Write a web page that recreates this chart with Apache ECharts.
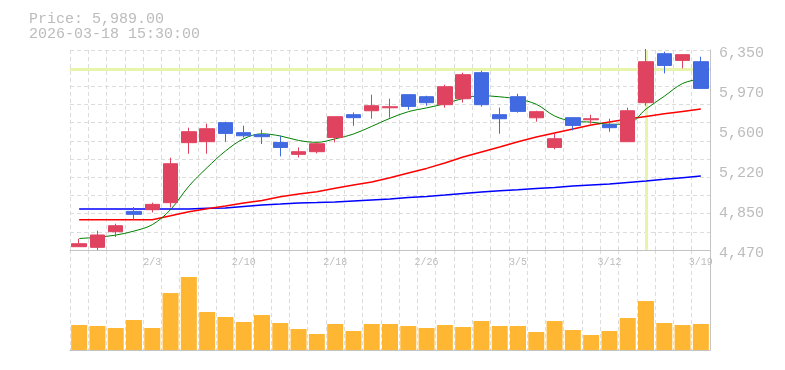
<!DOCTYPE html>
<html>
<head>
<meta charset="utf-8">
<script src="https://cdn.jsdelivr.net/npm/echarts@6/dist/echarts.min.js"></script>
<style>
  html, body { margin: 0; padding: 0; background: #ffffff; }
  #chart { width: 785px; height: 370px; }
</style>
</head>
<body>
<div id="chart"></div>
<script>
// ---- data ----
const categories = ['1/28','1/29','1/30','2/2','2/3','2/4','2/5','2/6','2/9','2/10','2/12','2/13','2/16','2/17','2/18','2/19','2/20','2/24','2/25','2/26','2/27','3/2','3/3','3/4','3/5','3/6','3/9','3/10','3/11','3/12','3/13','3/16','3/17','3/18','3/19'];
const xTickLabels = ['2/3','2/10','2/18','2/26','3/5','3/12','3/19'];
const yTickLabels = ['4,470','4,850','5,220','5,600','5,970','6,350'];
const headerLines = ['Price: 5,989.00', '2026-03-18 15:30:00'];

const openPrices  = [4501,4495,4642,4833,4849,4915,5479,5488,5667,5573,5554,5481,5369,5394,5528,5742,5779,5807,5930,5911,5836,5892,6137,5742,5911,5713,5434,5714,5694,5648,5488,5855,6315,6252,6240];
const closePrices = [4529,4611,4698,4805,4899,5281,5582,5610,5566,5544,5535,5434,5394,5469,5723,5714,5826,5817,5820,5855,6005,6118,5836,5704,5773,5770,5516,5641,5704,5620,5779,6240,6205,6306,5989];
const lowPrices   = [4501,4470,4592,4752,4823,4870,5375,5375,5488,5526,5466,5350,5340,5378,5481,5638,5704,5714,5789,5826,5808,5855,5817,5563,5761,5676,5416,5594,5657,5582,5488,5826,6130,6177,5989];
const highPrices  = [4576,4651,4717,4874,4915,5338,5620,5657,5676,5638,5601,5544,5434,5479,5723,5763,5930,5892,5930,5920,6024,6137,6155,5808,5939,5779,5563,5714,5742,5704,5808,6360,6334,6306,6287];

const maShort = [4578,4590,4610,4648,4708,4850,5070,5245,5400,5516,5562,5542,5500,5482,5515,5560,5632,5708,5770,5806,5845,5895,5920,5910,5888,5840,5730,5680,5672,5652,5654,5795,5915,6035,6080];
const maMid   = [4755,4755,4755,4755,4755,4792,4830,4858,4884,4912,4936,4970,4996,5018,5050,5080,5110,5150,5194,5237,5288,5344,5392,5438,5488,5532,5570,5607,5645,5673,5701,5726,5751,5773,5795];
const maLong  = [4855,4855,4855,4855,4855,4855,4855,4862,4865,4880,4893,4902,4912,4916,4921,4931,4940,4949,4964,4974,4987,5002,5015,5027,5037,5049,5058,5072,5081,5090,5105,5119,5134,5150,5166];

const volumes = [250,240,220,300,220,570,730,380,330,280,350,270,210,160,260,190,260,260,240,220,250,230,290,240,240,180,290,200,150,190,320,490,270,250,260];

const crossPrice = 6171;
const crossDate = '3/16';

// ---- styles ----
const monoName = 'Liberation Mono';
const labelGray = '#bcbcbc';
const axisGray = '#c4c4c4';
const gridDash = { color: '#dcdcdc', width: 1, type: [4, 3] };
const upColor = '#e0435f';
const downColor = '#4169e1';

const candleData = categories.map((c, i) => [openPrices[i], closePrices[i], lowPrices[i], highPrices[i]]);

const chart = echarts.init(document.getElementById('chart'), null, { renderer: 'canvas' });
chart.setOption({
  animation: false,
  backgroundColor: '#ffffff',
  graphic: [{
    type: 'text', left: 29, top: 12,
    style: { text: headerLines.join('\n'), font: '15px "Liberation Mono"', fill: labelGray, lineHeight: 15 }
  }],
  grid: [
    { left: 70, top: 50, width: 640, height: 200 },
    { left: 70, top: 250, width: 640, height: 100 }
  ],
  xAxis: [
    {
      type: 'category', gridIndex: 0, data: categories, boundaryGap: true,
      axisLine: { show: true, lineStyle: { color: axisGray, width: 1 } },
      axisTick: { show: false },
      axisLabel: {
        interval: (idx, val) => xTickLabels.includes(val),
        fontFamily: monoName, fontSize: 10, color: labelGray, margin: 7
      },
      splitLine: { show: true, interval: 0, lineStyle: gridDash }
    },
    {
      type: 'category', gridIndex: 1, data: categories, boundaryGap: true,
      axisLine: { show: true, lineStyle: { color: axisGray, width: 1 } },
      axisTick: { show: false },
      axisLabel: { show: false },
      splitLine: { show: true, interval: 0, lineStyle: gridDash }
    }
  ],
  yAxis: [
    { // data axis for prices
      type: 'value', gridIndex: 0, min: 4470, max: 6350, show: false
    },
    { // label axis
      type: 'value', gridIndex: 0, position: 'right', min: 0, max: 5, interval: 1,
      axisLine: { show: true, lineStyle: { color: axisGray, width: 1 } },
      axisTick: { show: false },
      splitLine: { show: false },
      axisLabel: {
        formatter: (v) => yTickLabels[Math.round(v)],
        fontFamily: monoName, fontSize: 15, color: labelGray, margin: 9,
        verticalAlign: 'top', lineHeight: 7
      }
    },
    { // grid lines
      type: 'value', gridIndex: 0, position: 'left', min: 0, max: 11, interval: 1,
      axisLine: { show: false }, axisTick: { show: false }, axisLabel: { show: false },
      splitLine: { show: true, lineStyle: gridDash }
    },
    { // volume
      type: 'value', gridIndex: 1, position: 'right', min: 0, max: 1000,
      axisLine: { show: true, lineStyle: { color: axisGray, width: 1 } },
      axisTick: { show: false }, axisLabel: { show: false },
      splitLine: { show: false }
    }
  ],
  series: [
    {
      type: 'line', xAxisIndex: 0, yAxisIndex: 0, data: [], z: 1,
      markLine: {
        silent: true, symbol: ['none', 'none'], z: 1, animation: false,
        label: { show: false },
        lineStyle: { color: '#e6f5aa', width: 3, type: 'solid' },
        data: [{ yAxis: crossPrice }, { xAxis: crossDate }]
      }
    },
    {
      type: 'line', xAxisIndex: 0, yAxisIndex: 0, data: maLong, z: 2,
      showSymbol: false, symbol: 'none', smooth: false,
      lineStyle: { color: '#0000ff', width: 1.5 }
    },
    {
      type: 'line', xAxisIndex: 0, yAxisIndex: 0, data: maMid, z: 2,
      showSymbol: false, symbol: 'none', smooth: false,
      lineStyle: { color: '#ff0000', width: 1.5 }
    },
    {
      type: 'line', xAxisIndex: 0, yAxisIndex: 0, data: maShort, z: 2,
      showSymbol: false, symbol: 'none', smooth: 0.35,
      lineStyle: { color: '#008000', width: 1 }
    },
    {
      type: 'candlestick', xAxisIndex: 0, yAxisIndex: 0, data: candleData, z: 3,
      barWidth: 15,
      itemStyle: { color: upColor, color0: downColor, borderColor: upColor, borderColor0: downColor, borderWidth: 1 }
    },
    {
      type: 'bar', xAxisIndex: 1, yAxisIndex: 3, data: volumes, barWidth: 16,
      itemStyle: { color: '#ffb733' }
    }
  ]
});
</script>
</body>
</html>
